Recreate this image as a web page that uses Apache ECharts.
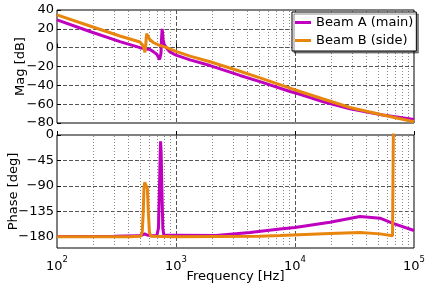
<!DOCTYPE html>
<html><head><meta charset="utf-8">
<script src="https://cdn.jsdelivr.net/npm/echarts@6/dist/echarts.min.js"></script>
<style>html,body{margin:0;padding:0;background:#fff}#c{width:436px;height:283px}</style>
</head><body><div id="c"></div>
<script>
// ---- data ----
const seriesNames = ['Beam A (main)', 'Beam B (side)'];

const magFreqA = [100,189,338,498,604,644,690,710,728,736,748,756,765,772,779,793,835,890,1000,1312,1933,3450,5080,9080,11000,17300,28970,54800,100000];
const magA     = [29.5,17.2,6.4,0,-2,-4.2,-7,-9,-12.5,-14.5,-6,10,20,15,9,4,-0.7,-4.5,-8,-13,-19,-29.5,-36,-46.5,-49.5,-57.5,-65,-71.5,-76.2];

const magFreqB = [100,189,338,498,525,540,548,556,562,567,576,586,604,644,710,835,1000,1312,1933,3450,5080,9080,11000,17300,28970,54800,100000];
const magB     = [34.8,23,12.4,6,2.5,-1,-5,2,10,15,12.5,10.5,8.5,5.5,3,0,-4,-9,-15,-25,-32,-43,-46.5,-54.5,-63.5,-71.5,-78.6];

const phFreqA = [100,300,480,520,545,570,620,690,700,712,725,737,742,750,762,775,790,850,1000,2170,4190,7480,10000,19680,35200,51800,66600,100000];
const phA     = [-179.5,-179,-178.5,-177,-175,-177,-178.5,-178,-177,-165,-100,-30,-11,-30,-100,-165,-177,-177.5,-177.5,-177.7,-172.4,-166.3,-163.6,-154.4,-144.4,-147.3,-156.4,-169];

const phFreqB = [100,400,505,520,530,538,545,555,565,575,585,598,615,1000,5000,7480,19680,35200,51800,66000,67900,68100,100000];
const phB     = [-180,-180,-179,-172,-140,-95,-84,-82,-83,-95,-135,-172,-179,-180,-179,-178,-174.5,-172.5,-175,-178.5,-180,180,180];

// axis ticks / grid positions
const xMin = 100, xMax = 100000;
const xMinorFreqs = [200,300,400,500,600,700,800,900,2000,3000,4000,5000,6000,7000,8000,9000,20000,30000,40000,50000,60000,70000,80000,90000];
const phaseTicks = [-180,-135,-90,-45,0];

const colors = ['#BF00BF', '#E8850C'];
const FONT = 'DejaVu Sans';

function pairs(xs, ys){ return xs.map((x,i)=>[x, ys[i]]); }
function minusFmt(v){ return v < 0 ? '\u2212' + Math.abs(v) : String(v); }

const majorSplit = {show:true, showMinLine:false, showMaxLine:false, lineStyle:{type:[4,2], color:'#555', width:1}};

function minorSeries(gi){
  return {type:'line', xAxisIndex:gi, yAxisIndex:gi, data:[], z:1, silent:true,
    markLine:{z:1, silent:true, animation:false, symbol:['none','none'], label:{show:false},
      lineStyle:{type:[1,2], color:'#888', width:1},
      emphasis:{disabled:true},
      data: xMinorFreqs.map(v=>({xAxis:v}))}};
}
function dataSeries(name, gi, data, ci){
  return {type:'line', name:name, xAxisIndex:gi, yAxisIndex:gi, data:data, showSymbol:false, symbol:'none',
    clip:true, z:2, color:colors[ci], lineStyle:{width:3, color:colors[ci]}, itemStyle:{color:colors[ci]}};
}
const nameStyle = {fontSize:13, fontFamily:FONT, color:'#000'};

const chart = echarts.init(document.getElementById('c'));
chart.setOption({
  animation:false,
  textStyle:{fontFamily:FONT},
  grid:[
    {left:57, right:22, top:10, height:113, show:true, borderColor:'#000', borderWidth:1, backgroundColor:'#fff', containLabel:false, outerBoundsMode:'none'},
    {left:57, right:22, top:135, height:113, show:true, borderColor:'#000', borderWidth:1, backgroundColor:'#fff', containLabel:false, outerBoundsMode:'none'}
  ],
  legend:{data:seriesNames, orient:'vertical', left:292, top:12, padding:[4,3,4,3], itemGap:5, z:50, zlevel:1,
    itemWidth:16, itemHeight:3, icon:'rect', backgroundColor:'#fff', borderColor:'#000', borderWidth:1,
    shadowColor:'rgba(0,0,0,0.45)', shadowOffsetX:2, shadowOffsetY:2, shadowBlur:0,
    textStyle:{fontFamily:FONT, fontSize:13, color:'#000', lineHeight:13}},
  xAxis:[
    {type:'log', logBase:10, gridIndex:0, min:xMin, max:xMax,
      axisLine:{show:false}, axisLabel:{show:false},
      axisTick:{show:true, inside:true, length:4, lineStyle:{color:'#000'}},
      splitLine:majorSplit},
    {type:'log', logBase:10, gridIndex:1, min:xMin, max:xMax,
      axisLine:{show:false},
      axisTick:{show:true, inside:true, length:4, lineStyle:{color:'#000'}},
      axisLabel:{show:true, margin:7, color:'#000',
        formatter:function(v){ return '{b|10}{s|' + Math.round(Math.log10(v)) + '}'; },
        rich:{b:{fontSize:13, fontFamily:FONT, color:'#000', lineHeight:18, verticalAlign:'bottom'},
              s:{fontSize:8.5, fontFamily:FONT, color:'#000', lineHeight:9, verticalAlign:'top'}}},
      splitLine:majorSplit,
      name:'Frequency [Hz]', nameLocation:'middle', nameGap:22, nameMoveOverlap:false,
      nameTextStyle:nameStyle}
  ],
  yAxis:[
    {type:'value', gridIndex:0, min:-80, max:40, interval:20,
      axisLine:{show:false},
      axisTick:{show:true, inside:true, length:4, lineStyle:{color:'#000'}},
      axisLabel:{margin:3, fontSize:13, color:'#000', fontFamily:FONT, formatter:minusFmt},
      splitLine:majorSplit,
      name:'Mag [dB]', nameLocation:'middle', nameRotate:90, nameGap:30, nameMoveOverlap:false,
      nameTextStyle:nameStyle},
    {type:'value', gridIndex:1, min:-200, max:0,
      axisLine:{show:false},
      axisTick:{show:true, inside:true, length:4, customValues:phaseTicks, lineStyle:{color:'#000'}},
      axisLabel:{margin:3, fontSize:13, color:'#000', fontFamily:FONT, formatter:minusFmt, customValues:phaseTicks},
      splitLine:majorSplit,
      name:'Phase [deg]', nameLocation:'middle', nameRotate:90, nameGap:37, nameMoveOverlap:false,
      nameTextStyle:nameStyle}
  ],
  series:[
    minorSeries(0), minorSeries(1),
    dataSeries(seriesNames[0], 0, pairs(magFreqA, magA), 0),
    dataSeries(seriesNames[1], 0, pairs(magFreqB, magB), 1),
    dataSeries(seriesNames[0], 1, pairs(phFreqA, phA), 0),
    dataSeries(seriesNames[1], 1, pairs(phFreqB, phB), 1)
  ]
});
</script></body></html>
